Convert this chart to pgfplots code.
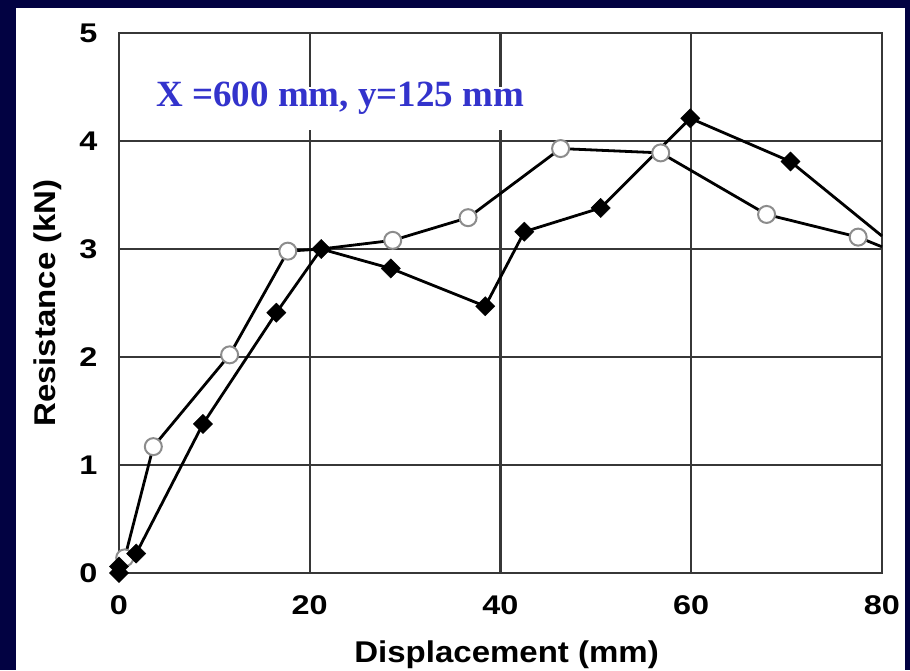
\documentclass[border=0pt]{standalone}
\usepackage{fontspec}
\usepackage{pgfplots}
\pgfplotsset{compat=1.18}
\newfontfamily\lsans[FakeStretch=1.2]{Liberation Sans}
\newfontfamily\lsanslab[FakeStretch=1.1]{Liberation Sans}
\newfontfamily\tnr{Liberation Serif}
\definecolor{navybg}{RGB}{2,2,66}
\definecolor{gridc}{RGB}{55,55,55}
\definecolor{circc}{RGB}{140,140,140}
\definecolor{titleblue}{RGB}{51,51,204}
\begin{document}
\begin{tikzpicture}[x=1pt,y=1pt]
\useasboundingbox (0,0) rectangle (910,670);
\fill[navybg] (0,0) rectangle (910,670);
\fill[white] (16,0) rectangle (905,662);
\begin{axis}[
  at={(119pt,97pt)}, anchor=south west,
  scale only axis, width=763pt, height=540pt,
  xmin=0, xmax=80, ymin=0, ymax=5,
  xtick={0,20,40,60,80}, ytick={0,1,2,3,4,5},
  grid=major,
  major grid style={gridc, line width=2.5pt},
  axis line style={gridc, line width=2.8pt},
  major tick length=0pt,
  /pgf/number format/assume math mode=true,
  ticklabel style={font=\lsans\bfseries\fontsize{27}{30}\selectfont, text=black},
  yticklabel style={xshift=-18pt},
  xticklabel style={yshift=-19pt},
  xlabel={Displacement (mm)},
  ylabel={Resistance (kN)},
  label style={font=\lsanslab\bfseries\fontsize{30}{34}\selectfont},
  xlabel style={at={(axis description cs:0.508,-0.165)}, anchor=base},
  ylabel style={at={(axis description cs:-0.094,0.5)}, anchor=center, rotate=0},
  clip=false,
]
\fill[white] (axis cs:1.7,4.5) rectangle (axis cs:43.5,4.1);
\node[anchor=base, text=titleblue, font=\tnr\bfseries\fontsize{37}{40}\selectfont] at (axis cs:23.2,4.317) {X =600 mm, y=125 mm};
% circle series
\addplot[black, line width=2.8pt, no markers] coordinates {
(0,0) (0.6,0.14) (3.6,1.17) (11.6,2.02) (17.7,2.98) (21.2,3.00) (28.7,3.08) (36.6,3.29) (46.3,3.93) (56.8,3.89) (67.9,3.32) (77.5,3.11) (80,3.02)};
\addplot[only marks, mark=*, mark size=8.5pt, mark options={draw=circc, fill=white, line width=2pt}] coordinates {
(0.6,0.14) (3.6,1.17) (11.6,2.02) (17.7,2.98) (28.7,3.08) (36.6,3.29) (46.3,3.93) (56.8,3.89) (67.9,3.32) (77.5,3.11)};
% diamond series
\addplot[black, line width=2.8pt, no markers] coordinates {
(0,0) (0,0.06) (1.8,0.18) (8.8,1.38) (16.5,2.41) (21.2,3.0) (28.5,2.82) (38.4,2.47) (42.5,3.16) (50.5,3.38) (59.9,4.21) (70.4,3.81) (80,3.12)};
\addplot[only marks, mark=square*, mark size=6.8pt, mark options={black, rotate=45}] coordinates {
(0,0) (0,0.06) (1.8,0.18) (8.8,1.38) (16.5,2.41) (21.2,3.0) (28.5,2.82) (38.4,2.47) (42.5,3.16) (50.5,3.38) (59.9,4.21) (70.4,3.81)};
\end{axis}
\end{tikzpicture}
\end{document}
